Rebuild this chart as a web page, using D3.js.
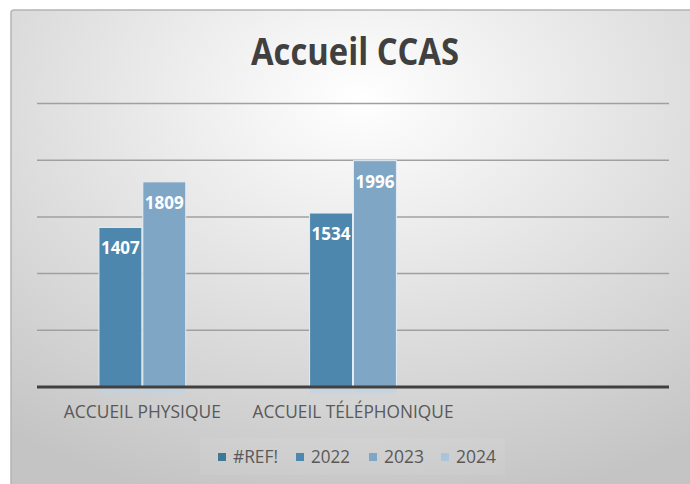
<!DOCTYPE html>
<html>
<head>
<meta charset="utf-8">
<script src="https://cdn.jsdelivr.net/npm/d3@7"></script>
<style>
  html, body { margin: 0; padding: 0; background: #fff; }
  svg { display: block; }
</style>
</head>
<body>
<svg id="chart" width="690" height="484"></svg>
<script>
// data
var categories = ["ACCUEIL PHYSIQUE", "ACCUEIL TÉLÉPHONIQUE", " "];
var seriesNames = ["#REF!", "2022", "2023", "2024"];
var valuesRef = [null, null, null];
var values2022 = [1407, 1534, null];
var values2023 = [1809, 1996, null];
var values2024 = [null, null, null];
var yTicks = [500, 1000, 1500, 2000, 2500];

var colors = {"#REF!": "#3f7897", "2022": "#4d87ae", "2023": "#80a6c6", "2024": "#aac4da"};
var allValues = {"#REF!": valuesRef, "2022": values2022, "2023": values2023, "2024": values2024};

var svg = d3.select("#chart");
var font = "'Open Sans', sans-serif";

// background with soft radial gradient
var defs = svg.append("defs");
var grad = defs.append("radialGradient").attr("id", "bg")
  .attr("cx", "50%").attr("cy", "18%").attr("r", "85%");
grad.append("stop").attr("offset", "0%").attr("stop-color", "#ffffff");
grad.append("stop").attr("offset", "100%").attr("stop-color", "#c4c4c4");

var refl = defs.append("linearGradient").attr("id", "refl")
  .attr("x1", 0).attr("y1", 0).attr("x2", 0).attr("y2", 1);
refl.append("stop").attr("offset", "0%").attr("stop-color", "#bcd3e6").attr("stop-opacity", 0.9);
refl.append("stop").attr("offset", "100%").attr("stop-color", "#bcd3e6").attr("stop-opacity", 0);

svg.append("rect")
  .attr("x", 11).attr("y", 10).attr("width", 700).attr("height", 490)
  .attr("rx", 3)
  .attr("fill", "url(#bg)")
  .attr("stroke", "#b4b4b4").attr("stroke-width", 1.5);

// scales
var x0 = d3.scaleBand().domain(categories).range([37, 669]).padding(0);
var x1 = d3.scaleBand().domain(seriesNames)
  .range([17.5, x0.bandwidth() - 17.5]).padding(0);
var y = d3.scaleLinear().domain([0, 2500]).range([387, 103.5]);

// gridlines
svg.append("g").selectAll("line")
  .data(yTicks)
  .enter().append("line")
  .attr("x1", 37).attr("x2", 669)
  .attr("y1", function (d) { return y(d); })
  .attr("y2", function (d) { return y(d); })
  .attr("stroke", "#a0a0a0").attr("stroke-width", 1.5);

// title
svg.append("text")
  .attr("x", 355).attr("y", 65)
  .attr("text-anchor", "middle")
  .attr("font-family", font).attr("font-weight", 700)
  .attr("font-size", 37)
  .attr("textLength", 208).attr("lengthAdjust", "spacingAndGlyphs")
  .attr("fill", "#404040")
  .text("Accueil CCAS");

// bars
var rows = [];
categories.forEach(function (c, i) {
  seriesNames.forEach(function (s) {
    var v = allValues[s][i];
    if (v != null) rows.push({cat: c, series: s, value: v});
  });
});

var bars = svg.append("g").selectAll("g")
  .data(rows)
  .enter().append("g")
  .attr("transform", function (d) { return "translate(" + (x0(d.cat) + x1(d.series)) + ",0)"; });

// faint reflection under the axis
bars.append("rect")
  .attr("x", 0.5).attr("y", y(0) + 2)
  .attr("width", x1.bandwidth() - 1).attr("height", 7)
  .attr("fill", "url(#refl)");

bars.append("rect")
  .attr("x", 0.5)
  .attr("y", function (d) { return y(d.value); })
  .attr("width", x1.bandwidth() - 1)
  .attr("height", function (d) { return y(0) - y(d.value); })
  .attr("fill", function (d) { return colors[d.series]; })
  .attr("stroke", "#e4ecf3").attr("stroke-width", 1);

bars.append("text")
  .attr("x", x1.bandwidth() / 2)
  .attr("y", function (d) { return y(d.value) + 27; })
  .attr("text-anchor", "middle")
  .attr("font-family", font).attr("font-weight", 700)
  .attr("font-size", 17)
  .attr("fill", "#ffffff")
  .text(function (d) { return d.value; });

// x axis
var xAxis = svg.append("g")
  .attr("transform", "translate(0," + y(0) + ")")
  .call(d3.axisBottom(x0).tickSize(0).tickPadding(0));
xAxis.select(".domain").attr("stroke", "#404040").attr("stroke-width", 3)
  .attr("d", "M37,0H669");
xAxis.selectAll("text")
  .attr("y", 31).attr("dy", 0)
  .attr("font-family", font).attr("font-size", 17.5)
  .attr("fill", "#595959")
  .attr("textLength", function (d) { return d.trim() ? (d.length > 17 ? 201 : 157) : null; })
  .attr("lengthAdjust", "spacingAndGlyphs");

// legend
var legend = svg.append("g");
legend.append("rect")
  .attr("x", 200).attr("y", 438).attr("width", 305).attr("height", 37)
  .attr("fill", "#ffffff").attr("fill-opacity", 0.07);

var legendX = [218, 296, 369, 441];
var legendW = [45, 39, 40, 40];
var item = legend.selectAll("g.item")
  .data(seriesNames)
  .enter().append("g").attr("class", "item")
  .attr("transform", function (d, i) { return "translate(" + legendX[i] + ",0)"; });
item.append("rect")
  .attr("x", 0).attr("y", 453).attr("width", 8).attr("height", 8)
  .attr("fill", function (d) { return colors[d]; });
item.append("text")
  .attr("x", 15).attr("y", 463)
  .attr("font-family", font).attr("font-size", 18)
  .attr("fill", "#595959")
  .attr("textLength", function (d, i) { return legendW[i]; })
  .attr("lengthAdjust", "spacingAndGlyphs")
  .text(function (d) { return d; });
</script>
</body>
</html>
